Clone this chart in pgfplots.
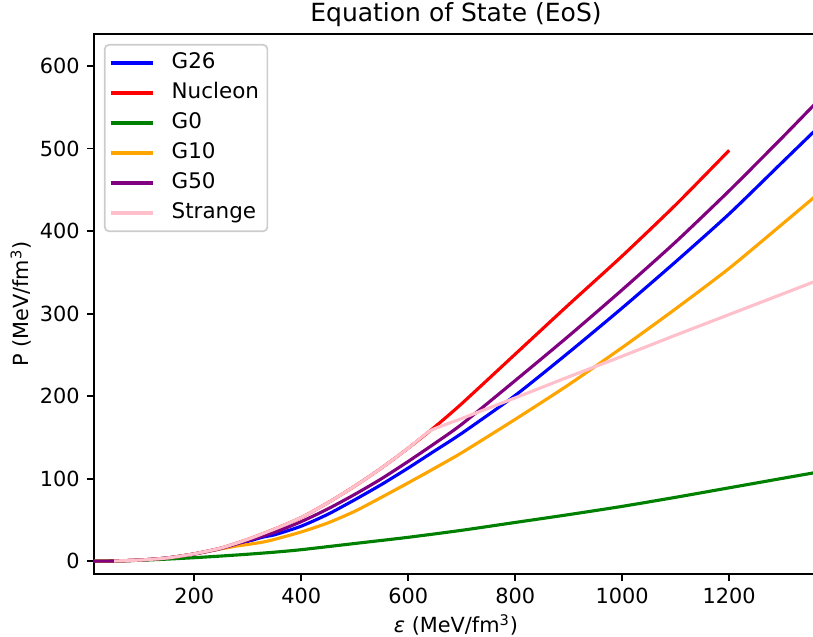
\documentclass[border=0pt]{standalone}
\usepackage{fontspec}
\setmainfont{DejaVu Sans}
\usepackage{pgfplots}
\pgfplotsset{compat=1.18}
\definecolor{mplblue}{RGB}{0,0,255}
\definecolor{mplred}{RGB}{255,0,0}
\definecolor{mplgreen}{RGB}{0,128,0}
\definecolor{mplorange}{RGB}{255,165,0}
\definecolor{mplpurple}{RGB}{128,0,128}
\definecolor{mplpink}{RGB}{255,192,203}
\begin{document}
\fontsize{10}{12}\selectfont
\begin{tikzpicture}
\begin{axis}[
  scale only axis, width=347.5pt, height=259.2pt,
  xmin=12.5, xmax=1366, ymin=-15.5, ymax=639,
  xtick={200,400,...,1200}, ytick={0,100,...,600},
  xtick pos=lower, ytick pos=left, tick align=outside,
  major tick length=3.4pt,
  every tick/.style={black, line width=0.8pt},
  axis line style={line width=0.8pt},
  /pgf/number format/assume math mode=true,
  /pgf/number format/1000 sep={},
  ticklabel style={font=\fontsize{10}{12}\selectfont},
  every axis title/.style={at={(0.5,1)}, anchor=base, yshift=6pt, font=\fontsize{12}{14}\selectfont},
  title={Equation of State (EoS)},
  every axis x label/.style={at={(0.5,0)}, anchor=base, yshift=-28.3pt},
  every axis y label/.style={at={(0,0.5)}, xshift=-31.2pt, rotate=90, anchor=base},
  xlabel={{\itshape ε} (MeV/fm\textsuperscript{3})},
  ylabel={P (MeV/fm\textsuperscript{3})},
  legend cell align=left,
  legend style={at={(0,1)}, anchor=north west, xshift=4.8pt, yshift=-4.8pt,
    draw=black!20, line width=0.8pt, rounded corners=2pt, fill=white,
    fill opacity=0.8, text opacity=1, font=\fontsize{10.3}{12}\selectfont,
    inner xsep=2pt, inner ysep=2pt,
    nodes={inner sep=2pt, text height=7.3pt, text depth=2.2pt},
    row sep=0.9pt,
    /tikz/every odd column/.append style={column sep=6pt}},
  legend image code/.code={\draw[#1] (0pt,0pt) -- (20.6pt,0pt);},
  every axis plot/.append style={line width=1.5pt, line join=round, no marks, smooth, tension=0.4},
]
\addplot[mplblue] table {
0 0
50 0.3
100 1.5
150 4
200 8.8
250 15.5
300 24
330 29.5
350 32
400 42.5
450 57
500 74.5
550 93
600 113
650 134
700 155
800 201
900 253
1000 307
1100 363
1200 421
1300 484
1366 525.5
};
\addlegendentry{G26}
\addplot[mplred] table {
0 0
50 0.3
100 1.5
150 4
200 9
250 16
300 26.5
350 39
400 53
450 71
500 91
550 113
600 137
650 163
700 191
800 251
900 311
1000 370
1100 432
1200 498
};
\addlegendentry{Nucleon}
\addplot[mplgreen] table {
0 0
50 0.3
100 1.2
150 2.6
200 4.3
250 6.3
300 8.5
350 11
400 14
500 21.5
600 29
700 37.5
800 47
900 56.5
1000 66.5
1100 77.5
1200 89
1300 100.5
1366 108
};
\addlegendentry{G0}
\addplot[mplorange] table {
0 0
50 0.3
100 1.5
150 4
200 8.8
250 15
280 18.5
300 20.3
330 23.4
350 26.5
400 35.5
450 46.5
500 60.5
550 77.5
600 95
650 113
700 131.5
800 172
900 214
1000 259
1100 306
1200 355
1300 409
1366 445
};
\addlegendentry{G10}
\addplot[mplpurple] table {
0 0
50 0.3
100 1.5
150 4
200 8.8
250 15.5
300 25
350 35
400 48
450 63.5
500 81
550 100
600 121
650 143
700 166
800 219
900 273
1000 329
1100 387
1200 449
1300 514
1366 558
};
\addlegendentry{G50}
\addplot[mplpink] table {
50 0.3
100 1.5
150 4
200 9
250 16
300 26.5
350 39
400 53
450 71
500 91
550 113
600 137
641 158
700 173
800 198
900 223.5
1000 248.5
1100 274
1200 299
1300 324
1366 340.5
};
\addlegendentry{Strange}
\end{axis}
\pgfresetboundingbox
\path[use as bounding box] ([shift={(-45.1pt,-30.2pt)}]current axis.south west) rectangle ([shift={(-2.4pt,16.3pt)}]current axis.north east);
\end{tikzpicture}
\end{document}
